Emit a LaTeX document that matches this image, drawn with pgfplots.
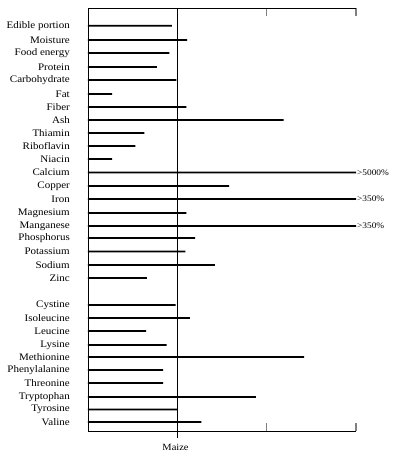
\documentclass[border=0pt]{standalone}
\usepackage{fontspec}
\setmainfont{Liberation Serif}[FakeStretch=1.1]
\usepackage{pgfplots}
\pgfplotsset{compat=1.18}
\usepackage{pgfplotstable}

\pgfplotstableread{
y val
25.7 94
40 111
53 91
67 77
80 99
94 27
107 110
120 219
133 63
146 53
159 27
172.5 300
186 158
199 300
213 110
226 300
238 120
251.5 109
265 142
278 66
305 98
318 114
331 65
345 88
357 242
370 84
383 84
397 188
409.5 100
422 127
}\data

\begin{document}
\begin{tikzpicture}
\path[use as bounding box] (0,0) rectangle (396pt,463pt);
\begin{axis}[
  at={(88pt,32pt)}, anchor=south west,
  scale only axis, width=268pt, height=423pt,
  xmin=0, xmax=300, ymin=8, ymax=431, y dir=reverse,
  axis x line*=box, axis y line*=left,
  axis line style={line width=0.9pt},
  xtick={200,300}, xticklabels={}, xtick pos=both,
  tick align=inside, major tick length=8pt,
  xtick style={line width=1.2pt},
  ytick={25.7,40,53,67,80,94,107,120,133,146,159,172.5,186,199,213,226,238,251.5,265,278,305,318,331,345,357,370,383,397,409.5,422},
  yticklabels={Edible portion,Moisture,Food energy,Protein,Carbohydrate,Fat,Fiber,Ash,Thiamin,Riboflavin,Niacin,Calcium,Copper,Iron,Magnesium,Manganese,Phosphorus,Potassium,Sodium,Zinc,Cystine,Isoleucine,Leucine,Lysine,Methionine,Phenylalanine,Threonine,Tryptophan,Tyrosine,Valine},
  ytick style={draw=none},
  yticklabel style={font=\fontsize{10}{12}\selectfont, inner sep=0pt, xshift=-10pt},
  clip=false,
  xbar, bar width=1.6pt, bar shift=0pt,
]
\addplot[fill=black, draw=none] table[x=val, y=y] {\data};
\draw[line width=0.9pt] (axis cs:100,8) -- (axis cs:100,438);
\node[font=\fontsize{9.5}{11}\selectfont] at (axis cs:98,447) {Maize};
\node[anchor=west, inner sep=1pt, font=\fontsize{8.5}{10}\selectfont] at (axis cs:300,172.5) {>5000\%};
\node[anchor=west, inner sep=1pt, font=\fontsize{8.5}{10}\selectfont] at (axis cs:300,199) {>350\%};
\node[anchor=west, inner sep=1pt, font=\fontsize{8.5}{10}\selectfont] at (axis cs:300,226) {>350\%};
\end{axis}
\end{tikzpicture}
\end{document}
